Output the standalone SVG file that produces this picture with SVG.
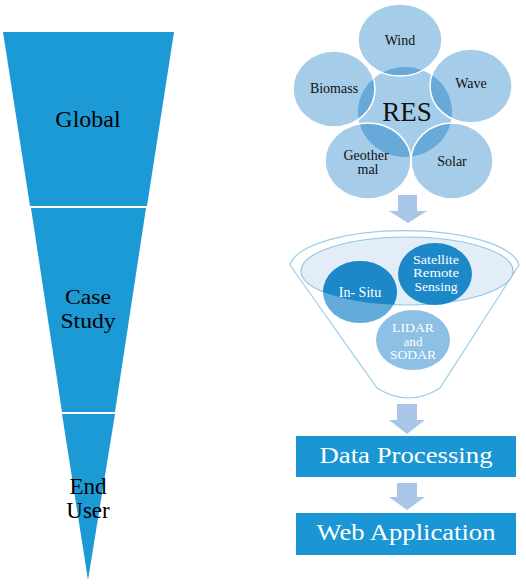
<svg xmlns="http://www.w3.org/2000/svg" width="526" height="588" viewBox="0 0 526 588">
<defs>
<style>
.lf{fill:#1b9ad6}
text{font-family:'Liberation Serif','DejaVu Serif','Noto Serif',serif;text-anchor:middle}
.lt{fill:#000}
.rt{fill:#111}
.wt{fill:#fff}
.oc{fill:#a5cde9}
.ov{fill:#67a9d9}
.ring{fill:none;stroke:#fff;stroke-width:1.5}
.arrow{fill:#a9c6e8}
.box{fill:#1b96d4}
</style>
<ellipse id="eWind" cx="400" cy="40" rx="42" ry="36"/>
<ellipse id="eBio" cx="334" cy="89" rx="41" ry="38"/>
<ellipse id="eWave" cx="471" cy="86" rx="41" ry="37"/>
<ellipse id="eGeo" cx="368" cy="161" rx="43" ry="38"/>
<ellipse id="eSol" cx="452" cy="161" rx="41" ry="38"/>
<clipPath id="cCenter"><ellipse cx="405" cy="112" rx="47" ry="45"/></clipPath>
<clipPath id="cInner"><ellipse cx="407" cy="271" rx="106" ry="34"/></clipPath>
</defs>
<rect width="526" height="588" fill="#fff"/>

<g id="scale-funnel">
<g id="global"><polygon class="lf" points="3,32 174,32 147,206 30,206"/><text class="lt" x="88" y="127" font-size="24">Global</text></g>
<g id="case-study"><polygon class="lf" points="31,208 146,208 115,412 62,412"/><text class="lt" x="88" y="304" font-size="22" textLength="46" lengthAdjust="spacingAndGlyphs">Case</text><text class="lt" x="88" y="328" font-size="22" textLength="55" lengthAdjust="spacingAndGlyphs">Study</text></g>
<g id="end-user"><polygon class="lf" points="62,414 115,414 88,580"/><text class="lt" x="88" y="494" font-size="23">End</text><text class="lt" x="88" y="518" font-size="23">User</text></g>
</g>

<g id="res-venn">
<g id="res"><ellipse class="oc" cx="405" cy="112" rx="47" ry="45"/></g>
<g id="wind"><use href="#eWind" class="oc"/></g>
<g id="biomass"><use href="#eBio" class="oc"/></g>
<g id="wave"><use href="#eWave" class="oc"/></g>
<g id="geothermal"><use href="#eGeo" class="oc"/></g>
<g id="solar"><use href="#eSol" class="oc"/></g>
<g clip-path="url(#cCenter)">
<use href="#eWind" class="ov"/><use href="#eBio" class="ov"/><use href="#eWave" class="ov"/><use href="#eGeo" class="ov"/><use href="#eSol" class="ov"/>
</g>
<use href="#eWind" class="ring"/><use href="#eBio" class="ring"/><use href="#eWave" class="ring"/><use href="#eGeo" class="ring"/><use href="#eSol" class="ring"/>
<text class="rt" x="400" y="45" font-size="14">Wind</text>
<text class="rt" x="334" y="93" font-size="14">Biomass</text>
<text class="rt" x="471" y="88" font-size="14">Wave</text>
<text class="rt" x="366" y="160" font-size="14">Geother</text>
<text class="rt" x="368" y="174" font-size="14">mal</text>
<text class="rt" x="452" y="166" font-size="14">Solar</text>
<text class="rt" x="407" y="121" font-size="27">RES</text>
</g>

<g id="data-funnel">
<path d="M290,265 A115,38 0 0 1 519,265 L440,388 Q409,408 377,388 Z" fill="#fff" stroke="#9ccbe8" stroke-width="1.2"/>
<ellipse cx="407" cy="271" rx="106" ry="34" fill="#e2edf7" stroke="#93c5e7" stroke-width="1.2"/>
<g id="in-situ">
<ellipse cx="360" cy="292" rx="37" ry="31" fill="#62aad9"/>
<ellipse cx="360" cy="292" rx="37" ry="31" fill="#1d88c8" clip-path="url(#cInner)"/>
<text class="wt" x="360" y="297" font-size="14">In- Situ</text>
</g>
<g id="satellite">
<ellipse cx="435" cy="274" rx="37" ry="31" fill="#1d88c8"/>
<text class="wt" x="436" y="264" font-size="12" textLength="46" lengthAdjust="spacingAndGlyphs">Satellite</text>
<text class="wt" x="436" y="277.3" font-size="12" textLength="46" lengthAdjust="spacingAndGlyphs">Remote</text>
<text class="wt" x="436" y="290.6" font-size="12" textLength="43" lengthAdjust="spacingAndGlyphs">Sensing</text>
</g>
<g id="lidar">
<ellipse cx="413" cy="340" rx="37" ry="30" fill="#8cc0e4"/>
<text class="wt" x="413" y="332.4" font-size="12" textLength="42" lengthAdjust="spacingAndGlyphs">LIDAR</text>
<text class="wt" x="413" y="345.7" font-size="12" textLength="19" lengthAdjust="spacingAndGlyphs">and</text>
<text class="wt" x="413" y="359" font-size="12" textLength="46" lengthAdjust="spacingAndGlyphs">SODAR</text>
</g>
</g>

<g id="data-processing">
<rect class="box" x="296" y="436" width="220" height="41"/>
<text class="wt" x="406" y="463" font-size="23" textLength="173" lengthAdjust="spacingAndGlyphs">Data Processing</text>
</g>
<g id="web-application">
<rect class="box" x="296" y="513" width="220" height="42"/>
<text class="wt" x="406" y="540" font-size="23" textLength="179" lengthAdjust="spacingAndGlyphs">Web Application</text>
</g>

<g id="connectors">
<polygon class="arrow" points="398,195 417,195 417,211 427,211 408,223 389,211 398,211"/>
<polygon class="arrow" points="397,404 417,404 417,420 425,420 407,434 389,420 397,420"/>
<polygon class="arrow" points="397,483 417,483 417,497 425,497 407,510 389,497 397,497"/>
</g>
</svg>
